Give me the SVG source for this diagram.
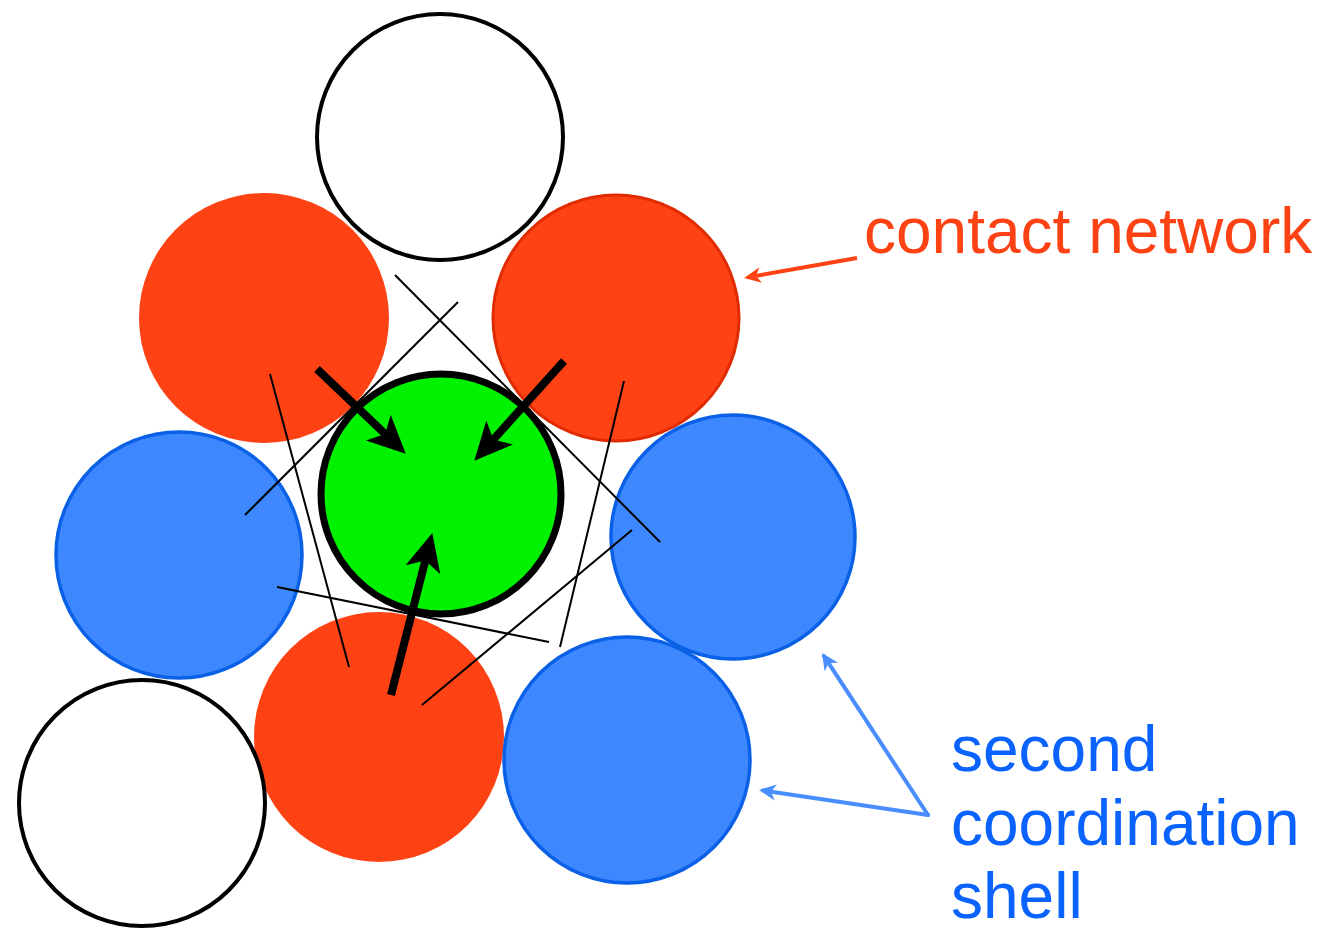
<svg xmlns="http://www.w3.org/2000/svg" width="1329" height="930" viewBox="0 0 1329 930">
<style>
.white{fill:#ffffff;stroke:#000000;stroke-width:4}
.red{fill:#ff4213}
.redS{fill:#ff4213;stroke:#e02a00;stroke-width:3}
.blue{fill:#3d88ff;stroke:#0a60e6;stroke-width:3.5}
.green{fill:#00f200;stroke:#000000;stroke-width:7}
.thin{stroke:#000000;stroke-width:2;fill:none}
.thick{stroke:#000000;stroke-width:8;fill:none;marker-end:url(#bigHead)}
.bl{stroke:#4a8dff;stroke-width:4;fill:none;stroke-linecap:round;marker-end:url(#blueHead)}
.lab{font-family:"Liberation Sans",Arial,sans-serif;font-size:64px}
</style>
<defs>
<marker id="bigHead" markerUnits="userSpaceOnUse" markerWidth="40" markerHeight="40" viewBox="0 -18 38 36" refX="16" refY="0" orient="auto">
<path d="M0,-17 L36,0 L0,17 L9,0 Z" fill="#000000"/>
</marker>
<marker id="redHead" markerUnits="userSpaceOnUse" markerWidth="20" markerHeight="20" viewBox="0 -10 20 20" refX="13" refY="0" orient="auto">
<path d="M0,-8 L17,0 L0,8 L5,0 Z" fill="#ff4213"/>
</marker>
<marker id="blueHead" markerUnits="userSpaceOnUse" markerWidth="20" markerHeight="20" viewBox="0 -10 20 20" refX="13" refY="0" orient="auto">
<path d="M0,-8 L17,0 L0,8 L5,0 Z" fill="#4a8dff"/>
</marker>
</defs>
<rect width="1329" height="930" fill="#ffffff"/>
<g id="node-top-white"><circle class="white" cx="440" cy="137" r="123"/></g>
<g id="node-red-topleft"><circle class="red" cx="264" cy="318" r="125"/></g>
<g id="node-red-topright"><circle class="redS" cx="616" cy="318" r="123"/></g>
<g id="node-blue-left"><circle class="blue" cx="179" cy="555" r="123"/></g>
<g id="node-blue-right"><circle class="blue" cx="733" cy="537" r="122"/></g>
<g id="node-red-bottom"><circle class="red" cx="379" cy="737" r="125"/></g>
<g id="node-blue-bottomright"><circle class="blue" cx="627" cy="760" r="123"/></g>
<g id="node-white-bottomleft"><circle class="white" cx="142" cy="803" r="123"/></g>
<g id="node-green"><circle class="green" cx="441" cy="494" r="120"/></g>
<g id="connectors">
<line class="thin" x1="395" y1="275" x2="660" y2="542"/>
<line class="thin" x1="458" y1="302" x2="245" y2="515"/>
<line class="thin" x1="270" y1="374" x2="349" y2="667"/>
<line class="thin" x1="624" y1="381" x2="560" y2="647"/>
<line class="thin" x1="277" y1="587" x2="549" y2="642"/>
<line class="thin" x1="632" y1="530" x2="422" y2="705"/>
<line class="thick" x1="317" y1="369" x2="390.5" y2="439.2"/>
<line class="thick" x1="564" y1="361" x2="488.4" y2="445.1"/>
<line class="thick" x1="391" y1="695" x2="427.1" y2="553.4"/>
<line x1="857" y1="258" x2="748" y2="277.3" stroke="#ff4213" stroke-width="4" marker-end="url(#redHead)"/>
<line class="bl" x1="928" y1="815" x2="824.2" y2="656.3"/>
<line class="bl" x1="928" y1="815" x2="763" y2="790.6"/>
</g>
<g id="labels">
<text class="lab" x="864" y="253" fill="#ff4213">contact network</text>
<text class="lab" x="951" y="771" fill="#0a62ff">second</text>
<text class="lab" x="951" y="845" fill="#0a62ff">coordination</text>
<text class="lab" x="951" y="918" fill="#0a62ff">shell</text>
</g>
</svg>
